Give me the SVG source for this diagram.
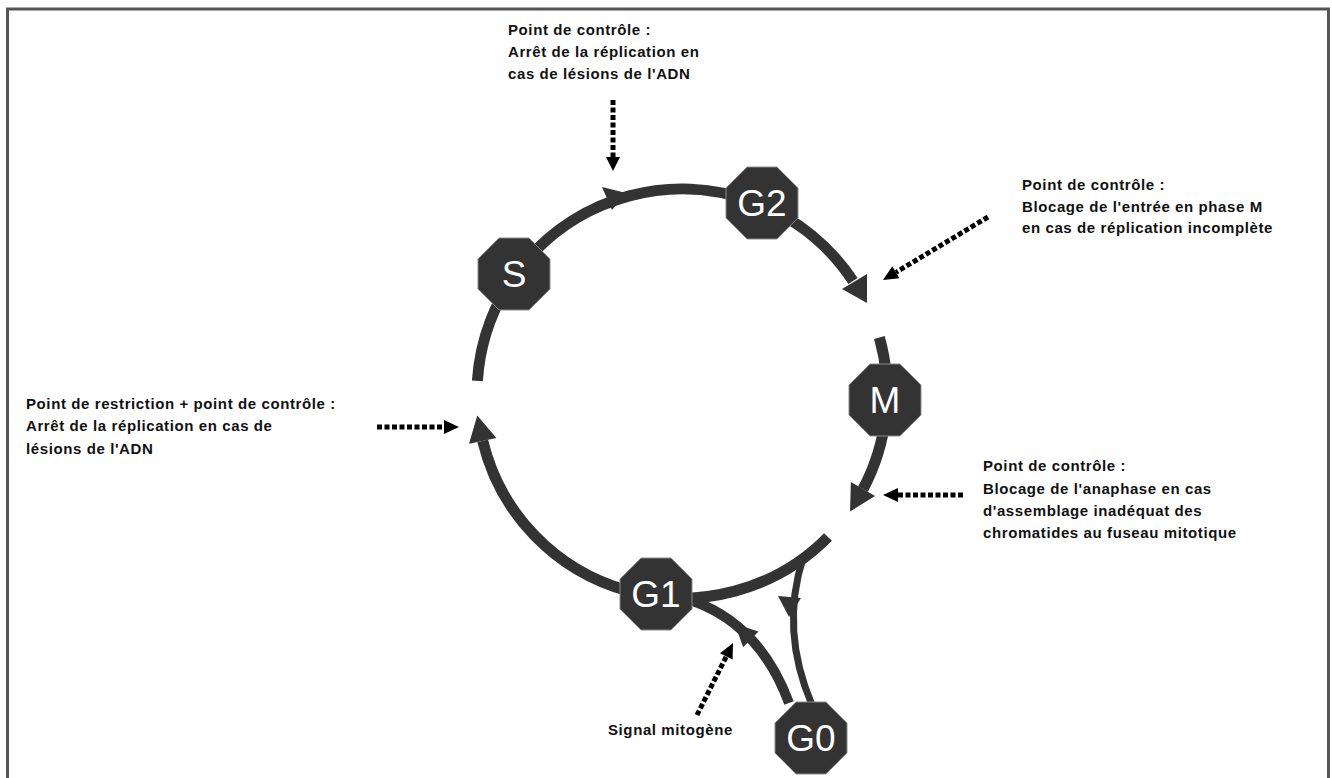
<svg xmlns="http://www.w3.org/2000/svg" width="1332" height="778" viewBox="0 0 1332 778">
<style>
.lbl{font-family:"Liberation Sans",Arial,sans-serif;font-size:15px;font-weight:bold;letter-spacing:0.6px;fill:#111}
.oct{fill:#333;stroke:#8a8a8a;stroke-width:1}
.ph{font-family:"Liberation Sans",Arial,sans-serif;font-size:37px;fill:#fff;text-anchor:middle}
.arc{fill:none;stroke:#333;stroke-width:11}
.thin{fill:none;stroke:#333;stroke-width:7}
.head{fill:#333}
.dot{fill:none;stroke:#000;stroke-width:5;stroke-dasharray:5 2.5}
.dhead{fill:#000}
</style>
<defs>
<polygon id="octa" points="-14.9,-36 14.9,-36 36,-14.9 36,14.9 14.9,36 -14.9,36 -36,14.9 -36,-14.9"/>
</defs>
<rect x="0" y="0" width="1332" height="778" fill="#fff"/>
<rect x="7.5" y="9" width="1321" height="800" fill="none" stroke="#555" stroke-width="3"/>

<g id="connectors">
  <path class="arc" d="M 477.4,380.8 A 205 205 0 0 1 853,281"/>
  <polygon class="head" points="867,303 842,289 867,274"/>
  <polygon class="head" points="602,187 612,210 626,193"/>
  <path class="arc" d="M 879.4,337.5 A 205 205 0 0 1 863,489.2"/>
  <polygon class="head" points="850,511.5 875.1,496 850.9,482"/>
  <path class="arc" d="M 828,537 A 205 205 0 0 1 482.7,440.9"/>
  <polygon class="head" points="477.3,415.5 496.4,438 469,443.8"/>
  <path class="thin" d="M 803,558 Q 780,630 812,705"/>
  <polygon class="head" points="778,596 801,598 789,617"/>
  <path class="arc" style="stroke-width:10" d="M 789,703 Q 760,625 693,601"/>
  <polygon class="head" points="735,624 758.5,631.5 743.1,647.3"/>

  <line class="dot" x1="613" y1="100" x2="613" y2="157"/>
  <polygon class="dhead" points="606,157 620,157 613,171"/>
  <line class="dot" x1="988" y1="217" x2="896" y2="272.3"/>
  <polygon class="dhead" points="899.5,278.3 892.3,266.3 883,280"/>
  <line class="dot" x1="377" y1="427" x2="444" y2="427"/>
  <polygon class="dhead" points="444,420 444,434 459,427"/>
  <line class="dot" x1="963" y1="495" x2="898" y2="495"/>
  <polygon class="dhead" points="898,488 898,502 883,495"/>
  <line class="dot" x1="697" y1="715" x2="726.3" y2="656.4"/>
  <polygon class="dhead" points="732.6,659.5 720,653.3 733,643"/>
</g>

<g id="node-S"><use href="#octa" class="oct" transform="translate(514,274)"/><text class="ph" x="514" y="287">S</text></g>
<g id="node-G2"><use href="#octa" class="oct" transform="translate(762,203)"/><text class="ph" x="762" y="216">G2</text></g>
<g id="node-M"><use href="#octa" class="oct" transform="translate(885,400)"/><text class="ph" x="885" y="413">M</text></g>
<g id="node-G1"><use href="#octa" class="oct" transform="translate(656,594)"/><text class="ph" x="656" y="607">G1</text></g>
<g id="node-G0"><use href="#octa" class="oct" transform="translate(811,738)"/><text class="ph" x="811" y="751">G0</text></g>

<g id="label-top">
  <text class="lbl" x="508" y="35">Point de contrôle :</text>
  <text class="lbl" x="508" y="57">Arrêt de la réplication en</text>
  <text class="lbl" x="508" y="79">cas de lésions de l'ADN</text>
</g>
<g id="label-right-top">
  <text class="lbl" x="1022" y="190">Point de contrôle :</text>
  <text class="lbl" x="1022" y="212">Blocage de l'entrée en phase M</text>
  <text class="lbl" x="1022" y="233">en cas de réplication incomplète</text>
</g>
<g id="label-left">
  <text class="lbl" x="26" y="409">Point de restriction + point de contrôle :</text>
  <text class="lbl" x="26" y="431">Arrêt de la réplication en cas de</text>
  <text class="lbl" x="26" y="454">lésions de l'ADN</text>
</g>
<g id="label-right-bottom">
  <text class="lbl" x="983" y="471">Point de contrôle :</text>
  <text class="lbl" x="983" y="494">Blocage de l'anaphase en cas</text>
  <text class="lbl" x="983" y="516">d'assemblage inadéquat des</text>
  <text class="lbl" x="983" y="538">chromatides au fuseau mitotique</text>
</g>
<g id="label-signal">
  <text class="lbl" x="608" y="735">Signal mitogène</text>
</g>
</svg>
